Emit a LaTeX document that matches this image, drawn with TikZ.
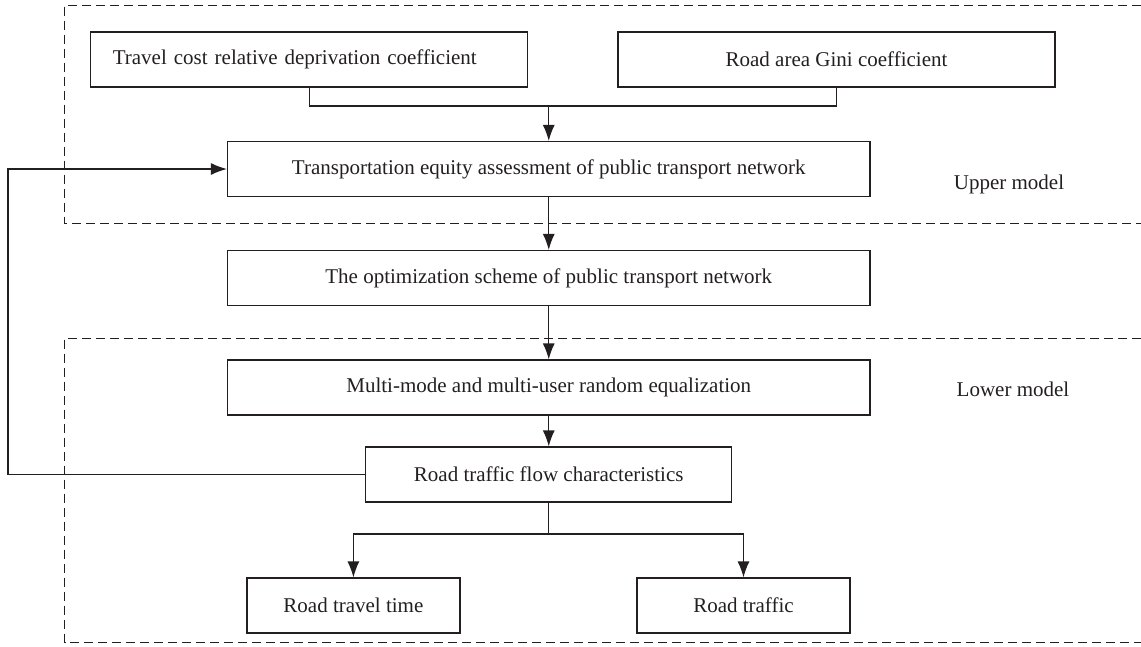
\documentclass[tikz,border=0pt]{standalone}
\usepackage{fontspec}
\setmainfont{Liberation Serif}
\usetikzlibrary{arrows.meta}
\definecolor{ink}{RGB}{35,31,32}

\begin{document}
\begin{tikzpicture}[x=1pt,y=-1pt,
    font=\fontsize{21}{25}\selectfont,
    box/.style={draw=ink,text=ink,line width=1.2pt,minimum height=55pt,inner sep=0pt},
    arr/.style={-{Latex[length=16pt,width=12pt]}},
    frame/.style={draw=ink,line width=0.9pt,dash pattern=on 9pt off 5pt}]
      \useasboundingbox (0,0) rectangle (1141,646);
      % upper and lower model frames
      \draw[frame] (1141,5) -- (64.7,5) -- (64.7,223) -- (1141,223);
      \draw[frame] (1141,338) -- (64.7,338) -- (64.7,642) -- (1141,642);
      \node[text=ink] (upper) at (1009,184) {Upper model};
      \node[text=ink] (lower) at (1013,389) {Lower model};
      % boxes
      \node[box,text width=393pt,inner xsep=22pt,align=left] (trav) at (309.3,59.5) {Travel cost relative deprivation coefficient};
      \node[box,minimum width=437pt] (gini) at (836.5,59.5) {Road area Gini coefficient};
      \node[box,minimum width=642.5pt] (assess) at (548.75,169) {Transportation equity assessment of public transport network};
      \node[box,minimum width=642.5pt] (optim) at (548.75,278) {The optimization scheme of public transport network};
      \node[box,minimum width=642.5pt] (equal) at (548.75,387.5) {Multi-mode and multi-user random equalization};
      \node[box,minimum width=366pt] (flow) at (548.75,474.5) {Road traffic flow characteristics};
      \node[box,minimum width=213pt] (ttime) at (353.4,605.5) {Road travel time};
      \node[box,minimum width=213pt] (traffic) at (743.5,605.5) {Road traffic};
      \coordinate (join) at (548.75,106);
      \coordinate (fork) at (548.75,534);
      \coordinate (fb) at (8,0);
      % connectors
      \begin{scope}[draw=ink,line width=1.2pt]
      \draw (trav.south) |- (join) -| (gini.south);
      \draw[arr] (join) -- (assess);
      \draw[arr] (assess) -- (optim);
      \draw[arr] (optim) -- (equal);
      \draw[arr] (equal) -- (flow);
      \draw (flow) -- (fork);
      \draw[arr] (fork) -| (ttime);
      \draw[arr] (fork) -| (traffic);
      \draw[arr] (flow.west) -- (flow.west -| fb) |- (assess.west);
      \end{scope}
    \end{tikzpicture}
\end{document}
